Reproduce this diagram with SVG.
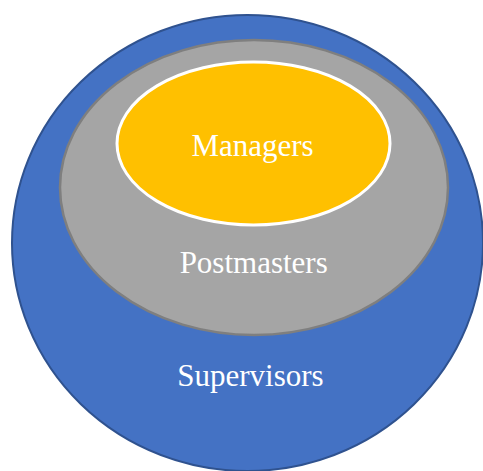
<svg xmlns="http://www.w3.org/2000/svg" width="483" height="471" viewBox="0 0 483 471">
<style>
.lbl{font-family:"Liberation Serif","Times New Roman",serif;font-size:31px;fill:#ffffff;text-anchor:middle}
</style>
<rect width="483" height="471" fill="#ffffff"/>
<g id="supervisors">
<ellipse cx="247.5" cy="243" rx="235.5" ry="228" fill="#4472C4" stroke="#2F528F" stroke-width="2"/>
<text class="lbl" x="250.5" y="386">Supervisors</text>
</g>
<g id="postmasters">
<ellipse cx="254" cy="187.5" rx="194" ry="147.5" fill="#A5A5A5" stroke="#7F7F7F" stroke-width="2.5"/>
<text class="lbl" x="253.7" y="273.3">Postmasters</text>
</g>
<g id="managers">
<ellipse cx="253.5" cy="143.5" rx="136.5" ry="81.5" fill="#FFC000" stroke="#FFFFFF" stroke-width="3"/>
<text class="lbl" x="252.5" y="156">Managers</text>
</g>
<g id="connectors"/>
</svg>
